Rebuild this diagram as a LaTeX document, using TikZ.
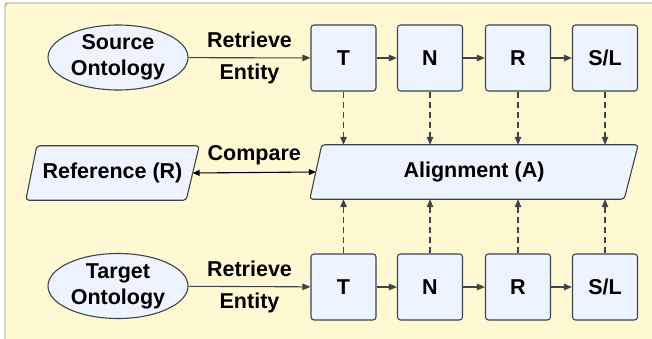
\documentclass[tikz,border=0pt]{standalone}
\usepackage{fontspec}
\setmainfont{Liberation Sans}
\usetikzlibrary{arrows.meta,calc,backgrounds,shapes.geometric}
\definecolor{bgy}{RGB}{255,249,211}
\definecolor{bgl}{RGB}{140,140,140}
\definecolor{nfill}{RGB}{237,244,255}
\definecolor{lc}{RGB}{62,68,76}
\begin{document}
\begin{tikzpicture}[x=1pt,y=-1pt,
 every node/.style={font=\fontsize{21.5}{26}\selectfont\bfseries, text=black},
 box/.style={draw=lc, fill=nfill, line width=1.1pt, rounded corners=3pt, minimum width=65pt, minimum height=66pt, inner sep=0pt},
 ell/.style={ellipse, draw=lc, fill=nfill, line width=1.1pt, minimum width=140pt, minimum height=65pt, inner sep=0pt, align=center},
 pbox/.style={minimum height=54pt, inner sep=0pt},
 shp/.style={draw=lc, fill=nfill, line width=1.1pt, rounded corners=3pt},
 arr/.style={draw=lc, line width=1.1pt, -{Triangle[length=8pt,width=6.5pt]}},
 darr/.style={arr, dash pattern=on 6pt off 4pt},
 barr/.style={draw=black, line width=1.1pt, {Triangle[length=7pt,width=6pt]}-{Triangle[length=7pt,width=6pt]}},
 lbl/.style={align=center, font=\fontsize{21.5}{32}\selectfont\bfseries, inner sep=0pt}
]
\useasboundingbox (0,0) rectangle (652,339);
\clip (0,0) rectangle (652,339);

% top row
\node[ell] (S) at (118,57.5) {Source\\Ontology};
\node[box] (T1) at (343.5,58) {T};
\node[box] (N1) at (430,58) {N};
\node[box] (R1) at (518,58) {R};
\node[box] (L1) at (605,58) {S/L};

% bottom row
\node[ell] (G) at (118,286) {Target\\Ontology};
\node[box] (T2) at (343.5,287) {T};
\node[box] (N2) at (430,287) {N};
\node[box] (R2) at (518,287) {R};
\node[box] (L2) at (605,287) {S/L};

% middle
\node[pbox, minimum width=328pt] (A) at (474,172) {Alignment (A)};
\node[pbox, minimum width=173pt] (Ref) at (112.5,173) {Reference (R)};

\begin{scope}[on background layer]
 \draw[draw=bgl, fill=bgy, line width=0.9pt, rounded corners=3pt] (5,3) rectangle (690,380);
 \draw[shp] ($(A.north west)+(12,0)$) -- (A.north east) -- ($(A.south east)+(-14,0)$) -- (A.south west) -- cycle;
 \draw[shp] ($(Ref.north west)+(11,0)$) -- (Ref.north east) -- ($(Ref.south east)+(-13,0)$) -- (Ref.south west) -- cycle;
\end{scope}

\coordinate (Re) at ($(Ref.east)+(-6.5,0)$);
\coordinate (Aw) at ($(A.west)+(6,0)$);

% connectors
\draw[arr] (S) -- node[lbl] {Retrieve\\Entity} (T1);
\draw[arr] (G) -- node[lbl] {Retrieve\\Entity} (T2);
\draw[arr] (T1) -- (N1);
\draw[arr] (N1) -- (R1);
\draw[arr] (R1) -- (L1);
\draw[arr] (T2) -- (N2);
\draw[arr] (N2) -- (R2);
\draw[arr] (R2) -- (L2);

\foreach \b in {T1,N1,R1,L1} \draw[darr] (\b.south) -- (\b.south |- A.north);
\foreach \b in {T2,N2,R2,L2} \draw[darr] (\b.north) -- (\b.north |- A.south);

\draw[barr] (Re) -- node[above=7pt, inner sep=0pt] (C) {Compare} (Aw);
\end{tikzpicture}
\end{document}
